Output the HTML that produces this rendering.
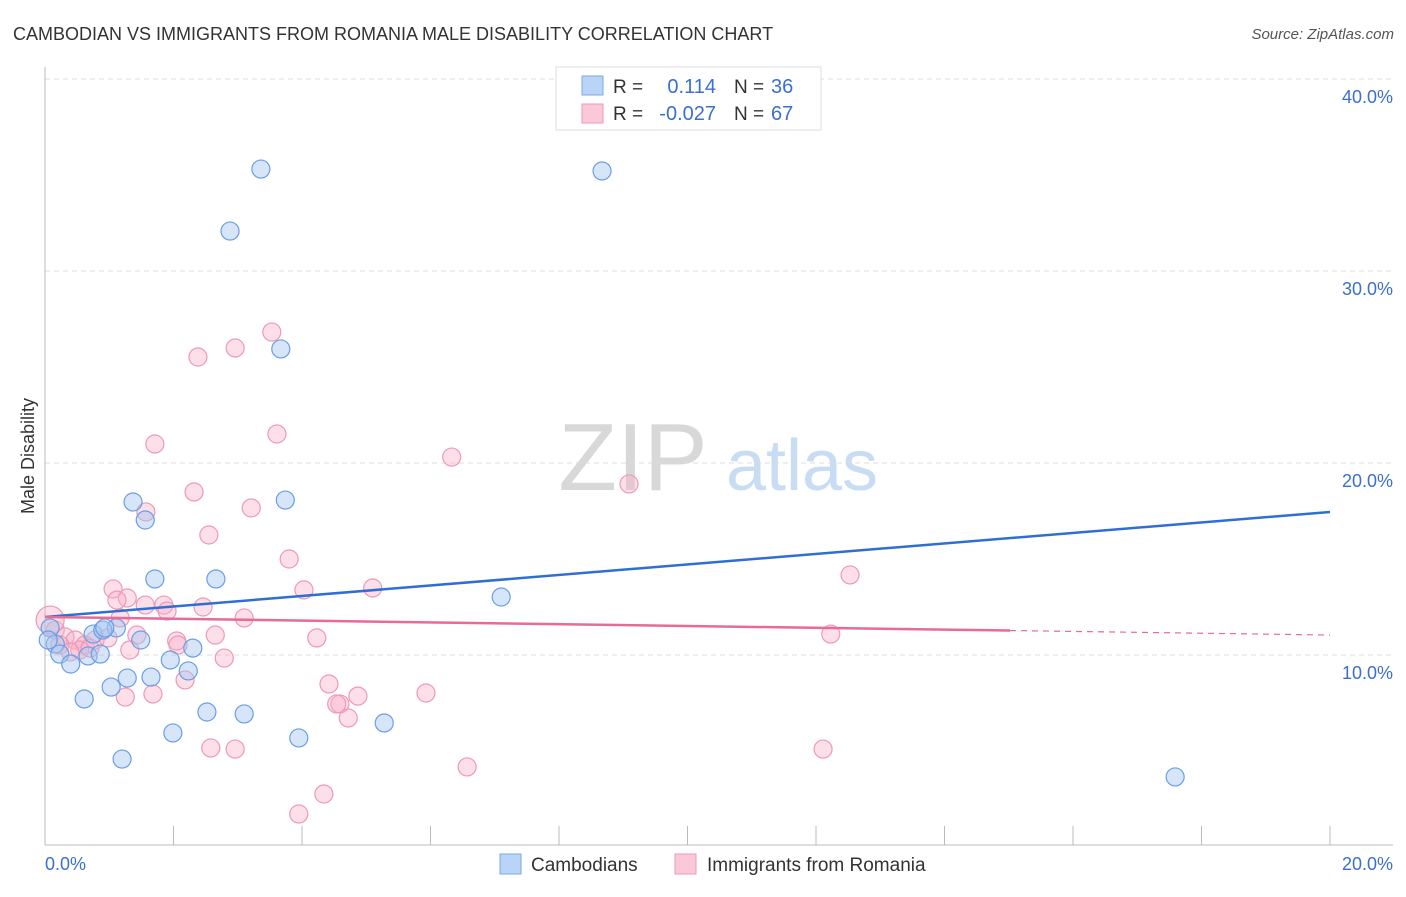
<!DOCTYPE html>
<html><head><meta charset="utf-8"><style>
body{margin:0;background:#fff;font-family:"Liberation Sans",sans-serif;}
svg text{font-family:"Liberation Sans",sans-serif;}
</style></head><body>
<svg id="chart" width="1406" height="892" xmlns="http://www.w3.org/2000/svg">
<text x="13" y="40" font-size="18" fill="#333">CAMBODIAN VS IMMIGRANTS FROM ROMANIA MALE DISABILITY CORRELATION CHART</text>
<text x="1394" y="39" font-size="15" fill="#555" text-anchor="end" font-style="italic">Source: ZipAtlas.com</text>
<g>
<text x="633" y="490" font-size="96" fill="#d8d8d8" font-family="Liberation Serif" text-anchor="middle">ZIP</text>
<text x="802" y="490" font-size="72" fill="#c8dcf3" text-anchor="middle">atlas</text>
</g>
<g id="grid"></g>
<g id="axes"></g>
<g id="marks"></g>
<g>
<rect x="556" y="67" width="265" height="63" fill="#fff" stroke="#ddd"/>
<rect x="582" y="76" width="21" height="19" fill="#b8d4f6" stroke="#7aa9e6"/>
<rect x="582" y="104" width="21" height="19" fill="#fac8d8" stroke="#ee99b5"/>
<text x="613" y="93" font-size="19" fill="#333">R =</text>
<text x="716" y="93" font-size="20" fill="#3a6fd0" text-anchor="end">0.114</text>
<text x="734" y="93" font-size="19" fill="#333">N =</text>
<text x="771" y="93" font-size="20" fill="#3a6fd0">36</text>
<text x="613" y="120" font-size="19" fill="#333">R =</text>
<text x="716" y="120" font-size="20" fill="#3a6fd0" text-anchor="end">-0.027</text>
<text x="734" y="120" font-size="19" fill="#333">N =</text>
<text x="771" y="120" font-size="20" fill="#3a6fd0">67</text>
</g>
<g>
<rect x="500" y="854" width="21" height="20" fill="#b8d4f6" stroke="#7aa9e6"/>
<text x="531" y="871" font-size="19" fill="#333">Cambodians</text>
<rect x="675" y="854" width="21" height="20" fill="#fac8d8" stroke="#ee99b5"/>
<text x="707" y="871" font-size="19" fill="#333">Immigrants from Romania</text>
</g>
<text transform="translate(34,456) rotate(-90)" font-size="18" fill="#333" text-anchor="middle">Male Disability</text>
</svg>
<script>
const yTicks=[10,20,30,40];
const yTickLabels=["10.0%","20.0%","30.0%","40.0%"];
const xTickLabels=["0.0%","20.0%"];
const blueX=[3.36,8.67,2.88,3.67,1.37,3.74,1.56,1.71,2.66,7.10,0.08,0.75,1.11,0.90,1.49,0.16,0.23,0.67,0.86,0.40,1.95,2.30,2.23,1.28,1.65,1.03,0.61,2.52,3.10,1.99,3.95,5.28,1.20,17.59,0.05,0.93];
const blueY=[35.31,35.21,32.08,25.94,17.97,18.07,17.03,13.96,13.96,13.02,11.41,11.09,11.41,11.30,10.78,10.57,10.05,9.95,10.05,9.53,9.74,10.36,9.17,8.80,8.85,8.33,7.71,7.03,6.93,5.94,5.68,6.46,4.58,3.65,10.78,11.41];
const pinkX=[3.53,2.96,2.38,3.61,1.71,6.33,9.09,2.32,3.21,1.57,2.55,3.80,12.53,1.06,5.10,4.03,1.28,1.12,1.56,1.85,1.90,2.46,3.10,1.17,1.43,2.05,2.65,4.23,12.23,0.16,0.31,0.47,0.62,0.78,0.98,0.23,0.54,0.39,0.70,1.32,2.07,2.79,2.18,1.68,1.25,4.42,4.87,4.59,4.54,4.72,5.93,2.58,2.96,12.11,6.57,4.34,3.95,0.08];
const pinkY=[26.82,25.99,25.52,21.51,20.99,20.31,18.91,18.49,17.66,17.45,16.25,15.0,14.17,13.44,13.49,13.39,12.97,12.86,12.60,12.60,12.29,12.5,11.93,11.93,11.04,10.73,11.04,10.89,11.09,11.30,10.94,10.78,10.52,10.78,10.89,10.52,10.26,10.16,10.36,10.26,10.52,9.84,8.70,7.97,7.81,8.49,7.86,7.45,7.45,6.72,8.02,5.16,5.10,5.10,4.17,2.76,1.72,11.82];
const blueTrend=[11.98,17.45];
const pinkTrend=[11.98,11.04];
const pinkSolidEnd=15.02;
const NS="http://www.w3.org/2000/svg";
const X0=45,X1=1330,Y0=847,PPY=19.2;
function sx(v){return X0+(v/20)*(X1-X0);}
function sy(v){return Y0-v*PPY;}
function mk(tag,attrs,parent){const e=document.createElementNS(NS,tag);for(const k in attrs)e.setAttribute(k,attrs[k]);document.getElementById(parent).appendChild(e);return e;}
yTicks.forEach((t,i)=>{
 const l=mk('line',{x1:X0,x2:1393,y1:sy(t),y2:sy(t),stroke:'#ddd','stroke-dasharray':'5,4'},'grid');
 
 
 const tx=mk('text',{x:1393,y:sy(t)+24,'font-size':18,fill:'#3a6fd0','text-anchor':'end'},'axes');
 tx.textContent=yTickLabels[i];
 
 
});
const ax=mk('line',{x1:X0,x2:X0,y1:67,y2:845,stroke:'#bbb'},'axes');


const bx=mk('line',{x1:X0,x2:1393,y1:845,y2:845,stroke:'#bbb'},'axes');


for(let i=0;i<=10;i++){const t=mk('line',{x1:sx(i*2),x2:sx(i*2),y1:826,y2:845,stroke:'#bbb'},'axes');
 
 }
const xl0=mk('text',{x:45,y:870,'font-size':18,fill:'#3a6fd0'},'axes');xl0.textContent=xTickLabels[0];


const xl1=mk('text',{x:1393,y:870,'font-size':18,fill:'#3a6fd0','text-anchor':'end'},'axes');xl1.textContent=xTickLabels[1];


pinkX.forEach((x,i)=>{const c=mk('circle',{cx:sx(x),cy:sy(pinkY[i]),r:i===pinkX.length-1?14:9,fill:'rgba(247,176,199,0.4)',stroke:'#ee99b5','stroke-width':1.2},'marks');
 
 });
blueX.forEach((x,i)=>{const c=mk('circle',{cx:sx(x),cy:sy(blueY[i]),r:9,fill:'rgba(165,197,240,0.45)',stroke:'#6a9ee6','stroke-width':1.2},'marks');
 
 });
function py(v){return pinkTrend[0]+(pinkTrend[1]-pinkTrend[0])*v/20;}
const bt=mk('line',{x1:sx(0),y1:sy(blueTrend[0]),x2:sx(20),y2:sy(blueTrend[1]),stroke:'#2f6fd3','stroke-width':2.5},'marks');


const pt=mk('line',{x1:sx(0),y1:sy(py(0)),x2:sx(pinkSolidEnd),y2:sy(py(pinkSolidEnd)),stroke:'#e86a98','stroke-width':2.5},'marks');


const pd=mk('line',{x1:sx(pinkSolidEnd),y1:sy(py(pinkSolidEnd)),x2:sx(20),y2:sy(py(20)),stroke:'#e86a98','stroke-width':1.2,'stroke-dasharray':'6,5'},'marks');


</script>
</body></html>
